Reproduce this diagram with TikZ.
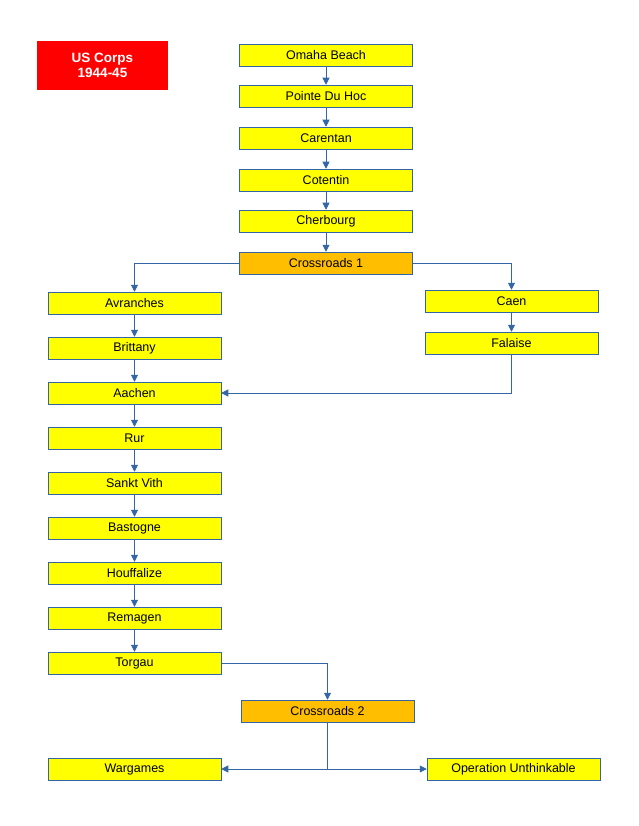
\documentclass[tikz,border=0pt]{standalone}
\usepackage{fontspec}
\setmainfont{Liberation Sans}
\usetikzlibrary{arrows.meta}
\definecolor{ln}{HTML}{3465A4}
\definecolor{yb}{HTML}{FFFF00}
\definecolor{ob}{HTML}{FFBF00}
\begin{document}
\begin{tikzpicture}[x=1pt,y=-1pt,
 box/.style={draw=ln,line width=0.5pt,fill=yb,minimum width=173pt,minimum height=22pt,inner sep=0pt,font=\fontsize{12.5}{14}\selectfont},
 cross/.style={box,fill=ob},
 ar/.style={draw=ln,line width=0.6pt,-{Triangle[length=7pt,width=7pt]}}]
\useasboundingbox (0,0) rectangle (638,826);
\node[fill=red,minimum width=131pt,minimum height=49pt,inner sep=0pt,text=white,font=\bfseries\fontsize{13.5}{15}\selectfont,align=center] (t) at (102.5,65.5) {US Corps\\1944-45};
\node[box] (a1) at (326,55) {Omaha Beach};
\node[box] (a2) at (326,96) {Pointe Du Hoc};
\node[box] (a3) at (326,138) {Carentan};
\node[box] (a4) at (326,180) {Cotentin};
\node[box] (a5) at (326,221) {Cherbourg};
\node[cross] (c1) at (326,263) {Crossroads 1};
\node[box] (l1) at (134.5,303) {Avranches};
\node[box] (l2) at (134.5,348) {Brittany};
\node[box] (l3) at (134.5,393) {Aachen};
\node[box] (l4) at (134.5,438) {Rur};
\node[box] (l5) at (134.5,483) {Sankt Vith};
\node[box] (l6) at (134.5,528) {Bastogne};
\node[box] (l7) at (134.5,573) {Houffalize};
\node[box] (l8) at (134.5,618) {Remagen};
\node[box] (l9) at (134.5,663) {Torgau};
\node[box] (r1) at (511.5,301) {Caen};
\node[box] (r2) at (511.5,343) {Falaise};
\node[cross] (c2) at (327.5,711) {Crossroads 2};
\node[box] (w) at (134.5,769) {Wargames};
\node[box] (o) at (513.5,769) {Operation Unthinkable};
\foreach \p/\q in {a1/a2,a2/a3,a3/a4,a4/a5,a5/c1,l1/l2,l2/l3,l3/l4,l4/l5,l5/l6,l6/l7,l7/l8,l8/l9,r1/r2}
  \draw[ar] (\p) -- (\q);
\draw[ar] (c1.west) -| (l1.north);
\draw[ar] (c1.east) -| (r1.north);
\draw[ar] (r2.south) |- (l3.east);
\draw[ar] (l9.east) -| (c2.north);
\coordinate (j) at (c2.south |- w);
\draw[ar] (c2.south) -- (j) -- (w.east);
\draw[ar] (j) -- (o.west);
\end{tikzpicture}
\end{document}
